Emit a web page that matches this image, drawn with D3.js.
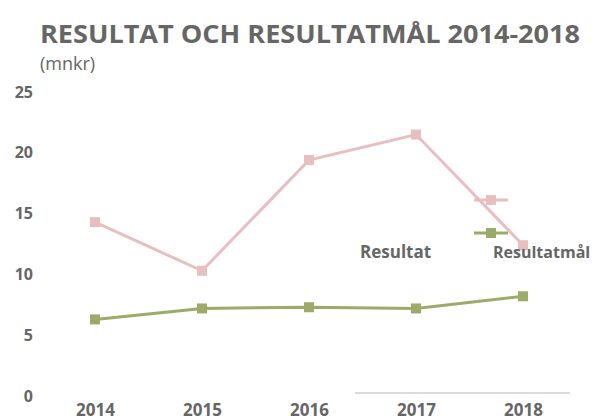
<!DOCTYPE html>
<html>
<head>
<meta charset="utf-8">
<script src="https://cdn.jsdelivr.net/npm/d3@7"></script>
<style>
  body { margin: 0; background: #fff; }
  text { font-family: "Open Sans", sans-serif; fill: #666; }
</style>
</head>
<body>
<div class="chart"></div>
<script>
// data
var years = ["2014", "2015", "2016", "2017", "2018"];
var resultat = [14.3, 10.3, 19.4, 21.5, 12.4];
var resultatmal = [6.3, 7.2, 7.3, 7.2, 8.2];
var yTicks = [0, 5, 10, 15, 20, 25];
var seriesNames = ["Resultat", "Resultatmål"];
var seriesColors = ["#e8bfbf", "#9bab68"];

const w = 601;
const h = 420;

const svg = d3.select(".chart")
  .append("svg")
  .attr("width", w)
  .attr("height", h);

//scales
const xScale = d3.scalePoint()
  .domain(years)
  .range([95, 523]);

const yScale = d3.scaleLinear()
  .domain([0, 25])
  .range([396, 92]);

//title
svg.append("text")
  .attr("x", 40)
  .attr("y", 43)
  .attr("font-size", "25px")
  .attr("font-weight", "bold")
  .attr("textLength", 540)
  .attr("lengthAdjust", "spacingAndGlyphs")
  .text("RESULTAT OCH RESULTATMÅL 2014-2018");

svg.append("text")
  .attr("x", 40)
  .attr("y", 70)
  .attr("font-size", "18px")
  .text("(mnkr)");

//y axis, no line
const yAxis = d3.axisLeft(yScale)
  .tickValues(yTicks)
  .tickSize(0)
  .tickPadding(0);
const yG = svg.append("g")
  .attr("transform", "translate(33,0)")
  .call(yAxis);
yG.select(".domain").remove();
yG.selectAll("text")
  .attr("font-size", "16px")
  .attr("font-weight", "bold")
  .attr("font-family", "DejaVu Sans, sans-serif")
  .attr("fill", "#666");

//x axis
const xAxis = d3.axisBottom(xScale).tickSize(0).tickPadding(0);
const xG = svg.append("g")
  .attr("transform", "translate(0,404)")
  .call(xAxis);
xG.select(".domain").remove();
xG.selectAll("text")
  .attr("font-size", "17px")
  .attr("font-weight", "bold")
  .attr("font-family", "DejaVu Sans, sans-serif")
  .attr("fill", "#666");

//faint grey line near the bottom
svg.append("line")
  .attr("x1", 355).attr("x2", 570)
  .attr("y1", 393).attr("y2", 393)
  .attr("stroke", "#dcdcdc")
  .attr("stroke-width", 2);

//lines
const line = d3.line()
  .x((d, i) => xScale(years[i]))
  .y((d) => yScale(d));

[resultat, resultatmal].forEach(function(s, k) {
  svg.append("path")
    .datum(s)
    .attr("fill", "none")
    .attr("stroke", seriesColors[k])
    .attr("stroke-width", 3)
    .attr("d", line);

  svg.selectAll(".m" + k)
    .data(s)
    .enter()
    .append("rect")
    .attr("class", "m" + k)
    .attr("x", (d, i) => xScale(years[i]) - 5)
    .attr("y", (d) => yScale(d) - 5)
    .attr("width", 10)
    .attr("height", 10)
    .attr("fill", seriesColors[k]);
});

//legend, odd layout as in the picture
var legendY = [200, 233];
seriesColors.forEach(function(c, k) {
  svg.append("line")
    .attr("x1", 474).attr("x2", 508)
    .attr("y1", legendY[k]).attr("y2", legendY[k])
    .attr("stroke", c)
    .attr("stroke-width", 3);
  svg.append("rect")
    .attr("x", 486).attr("y", legendY[k] - 5)
    .attr("width", 10).attr("height", 10)
    .attr("fill", c);
});

svg.append("text")
  .attr("x", 360)
  .attr("y", 258)
  .attr("font-size", "17px")
  .attr("font-weight", "bold")
  .text(seriesNames[0]);

svg.append("text")
  .attr("x", 493)
  .attr("y", 258)
  .attr("font-size", "16px")
  .attr("font-weight", "bold")
  .text(seriesNames[1]);
</script>
</body>
</html>
